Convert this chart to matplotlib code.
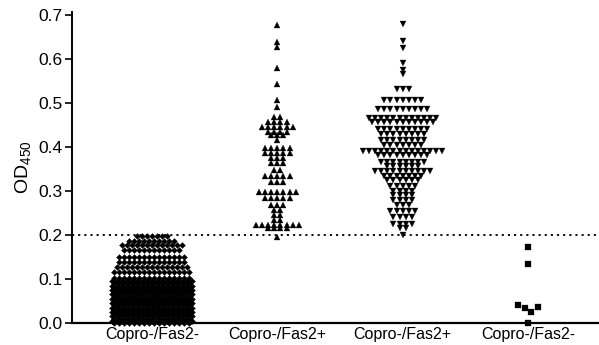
from __future__ import annotations

import matplotlib
matplotlib.use('Agg')
import matplotlib.pyplot as plt
import numpy as np

plt.rcParams['font.family'] = ['Liberation Sans', 'DejaVu Sans']
plt.rcParams['mathtext.fontset'] = 'custom'
plt.rcParams['mathtext.rm'] = 'Liberation Sans'
plt.rcParams['mathtext.it'] = 'Liberation Sans:italic'

categories = ['Copro-/Fas2-', 'Copro-/Fas2+', 'Copro-/Fas2+', 'Copro-/Fas2-']
cutoff = 0.2
y_ticks = [0.0, 0.1, 0.2, 0.3, 0.4, 0.5, 0.6, 0.7]

# group 1 (diamonds): value levels and how many points sit on each
g1_levels = [0.197, 0.187, 0.177, 0.166, 0.150, 0.139, 0.127, 0.116, 0.102,
             0.095, 0.090, 0.085, 0.080, 0.075, 0.070, 0.065, 0.060, 0.055, 0.050,
             0.045, 0.040, 0.035, 0.030, 0.025, 0.020, 0.015, 0.010, 0.005, 0.000]
g1_counts = [7, 10, 13, 12, 14, 14, 15, 16, 16,
             17, 16, 17, 16, 17, 16, 17, 16, 17, 16,
             17, 16, 17, 16, 17, 16, 17, 16, 17, 16]

# group 2 (up triangles)
g2_levels = [0.677, 0.639, 0.627, 0.580, 0.543, 0.507, 0.490, 0.468, 0.457,
             0.446, 0.434, 0.427, 0.416, 0.398, 0.386, 0.375, 0.364, 0.348,
             0.334, 0.320, 0.298, 0.284, 0.268, 0.257, 0.245, 0.234, 0.223,
             0.216, 0.196]
g2_counts = [1, 1, 1, 1, 1, 1, 1, 2, 4,
             6, 4, 3, 1, 5, 5, 3, 3, 2,
             5, 3, 7, 5, 3, 2, 2, 2, 8,
             4, 1]

# group 3 (down triangles)
g3_levels = [0.680, 0.642, 0.625, 0.590, 0.575, 0.566, 0.532, 0.507, 0.486,
             0.466, 0.456, 0.440, 0.430, 0.415, 0.405, 0.392, 0.382, 0.367,
             0.358, 0.345, 0.335, 0.325, 0.312, 0.300, 0.290, 0.280, 0.268,
             0.255, 0.240, 0.225, 0.215, 0.200]
g3_counts = [1, 1, 1, 1, 1, 1, 3, 7, 9,
             12, 11, 9, 8, 8, 7, 14, 9, 8,
             6, 10, 7, 6, 5, 4, 4, 4, 3,
             5, 4, 4, 2, 1]

# group 4 (squares), low cluster listed left to right
g4_values = [0.172, 0.133, 0.040, 0.034, 0.025, 0.036, 0.000]


def expand(levels: list[float], counts: list[int]) -> np.ndarray:
    """Turn value levels + counts into a flat array of values."""
    return np.repeat(np.asarray(levels, dtype=float), counts)


def row_layout(values: np.ndarray, spacing: float, tol: float) -> np.ndarray:
    """Prism-style scatter: close values share a row, each row centred on the column.

    Returns x offsets in the same units as spacing.
    """
    values = np.asarray(values, dtype=float)
    order = np.argsort(-values, kind='stable')
    offsets = np.zeros(len(values))
    rows: list[list[int]] = []
    for i in order:
        if rows and abs(values[rows[-1][0]] - values[i]) <= tol:
            rows[-1].append(i)
        else:
            rows.append([i])
    for row in rows:
        row = sorted(row)
        n = len(row)
        for k, i in enumerate(row):
            offsets[i] = (k - (n - 1) / 2) * spacing
    return offsets


fig = plt.figure(figsize=(5.99, 3.45), dpi=100)
ax = fig.add_axes([72 / 599, 22 / 345, 527 / 599, 311 / 345])
ax.set_xlim(0.362, 4.567)
ax.set_ylim(0, 0.707)

# horizontal pixels per category unit
x_px = ax.transData.transform((1, 0))[0] - ax.transData.transform((0, 0))[0]

columns = [
    (1, expand(g1_levels, g1_counts), 'D', 3.1, 5.0, 0.001),
    (2, expand(g2_levels, g2_counts), '^', 4.6, 6.2, 0.001),
    (3, expand(g3_levels, g3_counts), 'v', 4.6, 6.1, 0.001),
    (4, np.asarray(g4_values), 's', 4.4, 6.5, 0.02),
]
for pos, vals, marker, ms, spacing_px, tol in columns:
    offs = row_layout(vals, spacing_px, tol)
    ax.plot(pos + offs / x_px, vals, linestyle='none', marker=marker, ms=ms,
            color='black', mec='black', mew=0.2, clip_on=False)

ax.axhline(cutoff, color='black', linestyle=(0, (1.2, 2.2)), linewidth=1.3, zorder=0)

for side in ('top', 'right'):
    ax.spines[side].set_visible(False)
ax.spines['left'].set_linewidth(1.4)
ax.spines['bottom'].set_linewidth(1.6)

ax.set_yticks(y_ticks)
ax.set_yticklabels([f'{t:.1f}' for t in y_ticks], fontsize=12.5)
ax.tick_params(axis='y', length=5, width=1.2, pad=1.5)
ax.set_xticks([1, 2, 3, 4])
ax.set_xticklabels(categories, fontsize=11.5)
ax.tick_params(axis='x', length=0, pad=3)
ax.set_ylabel('OD$_{450}$', fontsize=14, labelpad=4)

fig.savefig('out.png', dpi=100)
